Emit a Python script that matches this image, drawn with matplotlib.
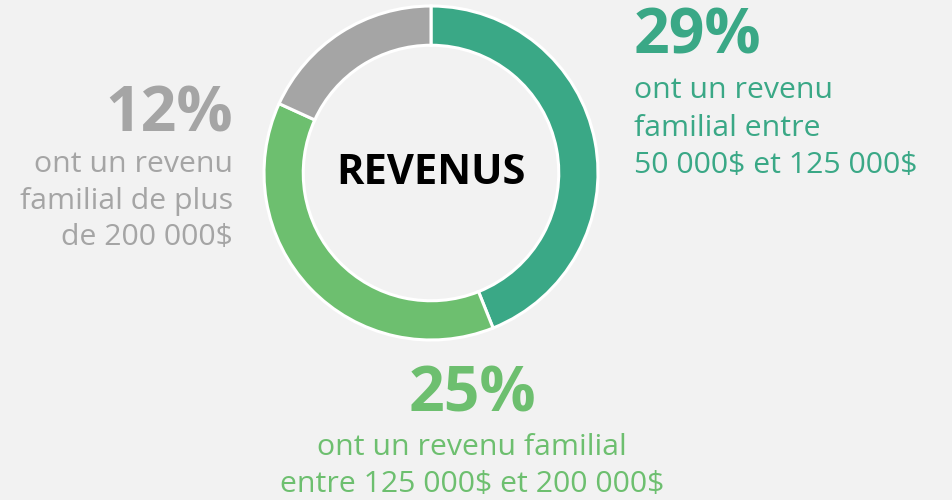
import matplotlib.pyplot as plt

# data
values = [29, 25, 12]
colors = ["#3aa886", "#6dbf6f", "#a5a5a5"]
pct_labels = ["29%", "25%", "12%"]
desc_lines = [
    ["ont un revenu", "familial entre", "50 000$ et 125 000$"],
    ["ont un revenu familial", "entre 125 000$ et 200 000$"],
    ["ont un revenu", "familial de plus", "de 200 000$"],
]
center_label = "REVENUS"

W, H = 952, 500
plt.rcParams['font.family'] = ['Open Sans', 'DejaVu Sans']
fig = plt.figure(figsize=(W / 100, H / 100), dpi=100)
fig.patch.set_facecolor("#f2f2f2")

# donut: centre (431, 173) px, outer radius 167 px
cx, cy, r = 431, 173, 167
size = 360
ax = fig.add_axes([(cx - size / 2) / W, (H - cy - size / 2) / H, size / W, size / H])
ax.set_facecolor("none")
ax.pie(values, colors=colors, startangle=90, counterclock=False,
       wedgeprops=dict(width=0.235, edgecolor="white", linewidth=2.2))
lim = size / 2 / r
ax.set_xlim(-lim, lim)
ax.set_ylim(-lim, lim)
ax.set_aspect("equal")
ax.axis("off")
ax.text(0, 0.0, center_label, ha="center", va="center", fontsize=30,
        fontweight="bold", color="black")


def px(x, y):
    return x / W, 1 - y / H


# label blocks: (x, pct baseline, first line baseline, line step, align)
blocks = [
    (634, 54, 98, 37.5, "left"),
    (472, 412, 455, 37, "center"),
    (233, 131, 172, 36.5, "right"),
]
for (x, yb, y0, step, ha), pct, lines, col in zip(blocks, pct_labels, desc_lines, colors):
    fig.text(*px(x, yb), pct, ha=ha, va="baseline", fontsize=45,
             fontweight="bold", color=col)
    for i, line in enumerate(lines):
        fig.text(*px(x, y0 + i * step), line, ha=ha, va="baseline",
                 fontsize=21.8, color=col, parse_math=False)

fig.savefig("out.png", dpi=100, facecolor=fig.get_facecolor())
